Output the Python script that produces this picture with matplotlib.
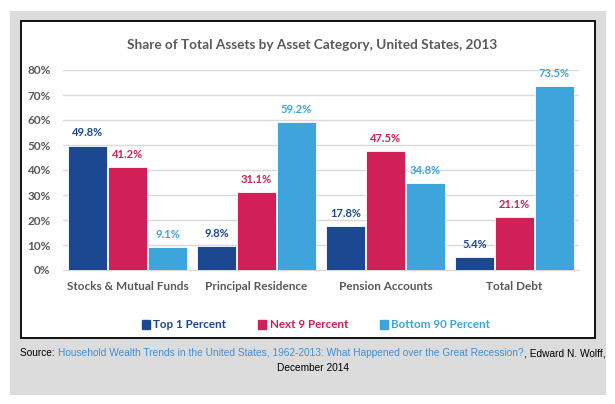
import matplotlib.pyplot as plt
import numpy as np
from matplotlib.patches import Rectangle

categories = ['Stocks & Mutual Funds', 'Principal Residence', 'Pension Accounts', 'Total Debt']
groups = ['Top 1 Percent', 'Next 9 Percent', 'Bottom 90 Percent']
top1 = [49.8, 9.8, 17.8, 5.4]
next9 = [41.2, 31.1, 47.5, 21.1]
bottom90 = [9.1, 59.2, 34.8, 73.5]
yticks = [0, 10, 20, 30, 40, 50, 60, 70, 80]

colors = ['#1c4892', '#d02057', '#3ea4dc']
title = 'Share of Total Assets by Asset Category, United States, 2013'

W, H = 615, 404
fig = plt.figure(figsize=(W / 100, H / 100), dpi=100)
fig.patch.set_facecolor('white')


def fx(x):
    return x / W


def fy(y):
    return 1 - y / H


# grey panel and white framed box
fig.patches.append(Rectangle((fx(10), fy(395)), (606 - 10) / W, (395 - 11) / H,
                             transform=fig.transFigure, facecolor='#dcdcdc',
                             edgecolor='none', zorder=0))
fig.patches.append(Rectangle((fx(21), fy(338)), (595 - 21) / W, (338 - 21) / H,
                             transform=fig.transFigure, facecolor='white',
                             edgecolor='black', linewidth=1.3, zorder=1))

ax = fig.add_axes([fx(63), fy(270), (579 - 63) / W, 200 / H])
ax.set_facecolor('none')
ax.set_zorder(2)

x = np.arange(len(categories))
w = 0.295
step = 0.31
series = [top1, next9, bottom90]
for i, vals in enumerate(series):
    xs = x + (i - 1) * step
    ax.bar(xs, vals, width=w, color=colors[i], edgecolor='white', linewidth=0.6,
           zorder=3)
    for xi, v in zip(xs, vals):
        ax.annotate(f'{v:.1f}%', (xi, v), xytext=(0, 9), textcoords='offset points',
                    ha='center', va='center', color=colors[i], fontsize=8,
                    fontweight='bold', family='Lato')

ax.set_xlim(-0.5, 3.5)
ax.set_ylim(0, 80)
ax.set_yticks(yticks)
ax.set_yticklabels([f'{t}%' for t in yticks])
ax.grid(axis='y', color='#d9d9d9', linewidth=1, zorder=0)
ax.set_axisbelow(True)
ax.set_xticks(x)
ax.set_xticklabels(categories)
for s in ['top', 'right', 'left']:
    ax.spines[s].set_visible(False)
ax.spines['bottom'].set_color('#d9d9d9')
ax.tick_params(axis='both', length=0)
ax.tick_params(axis='y', pad=9)
ax.tick_params(axis='x', pad=8)
for lab in ax.get_xticklabels() + ax.get_yticklabels():
    lab.set_family('Lato')
    lab.set_fontweight('bold')
    lab.set_color('#595959')
    lab.set_fontsize(8.5)

fig.text(fx(312), fy(45), title, ha='center', va='center', fontsize=9.8,
         fontweight='bold', color='#595959', family='Lato', zorder=5)

# legend
handles = [Rectangle((0, 0), 1, 1, color=c) for c in colors]
leg = fig.legend(handles, groups, loc='center', bbox_to_anchor=(fx(316), fy(325)),
                 ncol=3, frameon=False, handlelength=0.7, handleheight=0.7,
                 handletextpad=0.3, columnspacing=2.7,
                 prop={'family': 'Lato', 'weight': 'bold', 'size': 8.4})
for t, c in zip(leg.get_texts(), colors):
    t.set_color(c)
leg.set_zorder(5)

# source line with link coloured text
fig.canvas.draw()
r = fig.canvas.get_renderer()
src_font = dict(fontsize=7.3, family='Liberation Sans', va='center', zorder=5)
t1 = fig.text(fx(20), fy(353), 'Source: ', color='black', **src_font)
x1 = t1.get_window_extent(r).x1 + 1
t2 = fig.text(x1 / W, fy(353),
              'Household Wealth Trends in the United States, 1962-2013: What Happened over the Great Recession?',
              color='#3d8fd8', **src_font)
x2 = t2.get_window_extent(r).x1
fig.text(x2 / W, fy(353), ', Edward N. Wolff,', color='black', **src_font)
fig.text(fx(313), fy(368), 'December 2014', color='black', ha='center', **src_font)

fig.savefig('out.png', dpi=100, facecolor='white')
